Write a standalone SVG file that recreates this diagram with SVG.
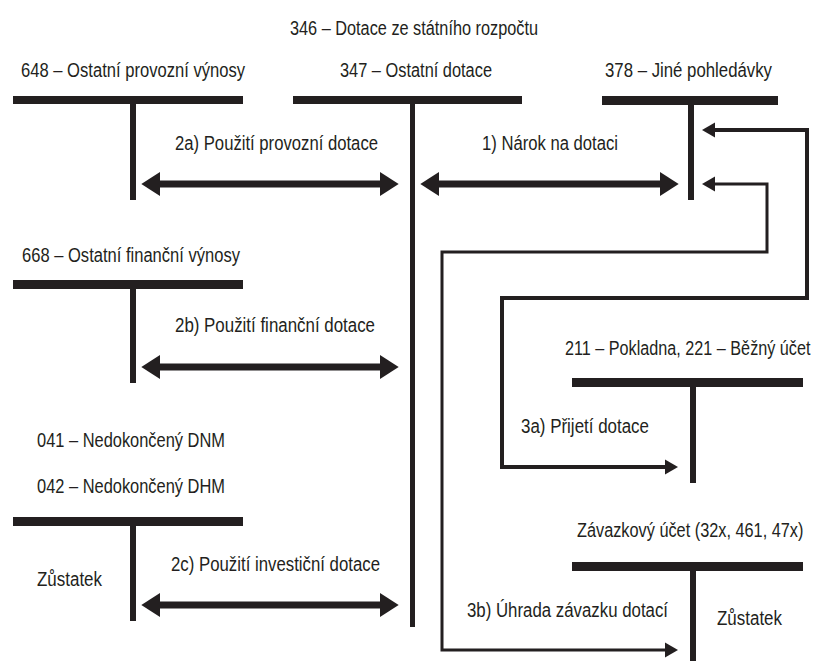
<svg xmlns="http://www.w3.org/2000/svg" width="815" height="661" viewBox="0 0 815 661">
<style>
text{font-family:"Liberation Sans Narrow","Liberation Sans",Arial,sans-serif;font-size:20px;fill:#231f20;}
text.sq{font-family:"Liberation Sans",Arial,sans-serif;}
.bar{fill:#231f20;}
.dbl{stroke:#231f20;stroke-width:7;fill:none;}
.el1{stroke:#231f20;stroke-width:4;fill:none;}
.el2{stroke:#231f20;stroke-width:3;fill:none;}
</style>
<defs>
<marker id="big" markerUnits="userSpaceOnUse" markerWidth="20" markerHeight="24" refX="2" refY="11.5" orient="auto-start-reverse" viewBox="0 0 19 23">
<path d="M0,0 L18,11.5 L0,23 z" fill="#231f20"/>
</marker>
<marker id="sm" markerUnits="userSpaceOnUse" markerWidth="14" markerHeight="16" refX="1" refY="7.5" orient="auto-start-reverse" viewBox="0 0 14 15">
<path d="M0,0 L13,7.5 L0,15 z" fill="#231f20"/>
</marker>
</defs>
<rect width="815" height="661" fill="#fff"/>

<text x="290" y="35" textLength="248" lengthAdjust="spacingAndGlyphs">346 – Dotace ze státního rozpočtu</text>

<g id="acc648">
<text x="21" y="77" textLength="224" lengthAdjust="spacingAndGlyphs">648 – Ostatní provozní výnosy</text>
<rect class="bar" x="13" y="96" width="230" height="8"/>
<rect class="bar" x="130" y="104" width="6" height="96"/>
</g>

<g id="acc347">
<text x="340" y="77" textLength="152" lengthAdjust="spacingAndGlyphs">347 – Ostatní dotace</text>
<rect class="bar" x="293" y="96" width="229" height="8"/>
<rect class="bar" x="410" y="104" width="5" height="523"/>
</g>

<g id="acc378">
<text x="605" y="77" textLength="167" lengthAdjust="spacingAndGlyphs">378 – Jiné pohledávky</text>
<rect class="bar" x="602" y="96" width="176" height="9"/>
<rect class="bar" x="688" y="104" width="6" height="96"/>
</g>

<g id="acc668">
<text x="22" y="262" textLength="218" lengthAdjust="spacingAndGlyphs">668 – Ostatní finanční výnosy</text>
<rect class="bar" x="13" y="280" width="230" height="9"/>
<rect class="bar" x="130" y="288" width="6" height="95"/>
</g>

<g id="acc041">
<text x="37" y="447" textLength="188" lengthAdjust="spacingAndGlyphs">041 – Nedokončený DNM</text>
<text x="37" y="493" textLength="188" lengthAdjust="spacingAndGlyphs">042 – Nedokončený DHM</text>
<rect class="bar" x="13" y="517" width="230" height="9"/>
<rect class="bar" x="130" y="525" width="6" height="96"/>
<text x="37" y="586" textLength="65" lengthAdjust="spacingAndGlyphs">Zůstatek</text>
</g>

<g id="acc211">
<text class="sq" transform="translate(565,355) scale(0.81,1)">211 – Pokladna, 221 – Běžný účet</text>
<rect class="bar" x="572" y="378" width="231" height="9"/>
<rect class="bar" x="690" y="386" width="6" height="97"/>
</g>

<g id="accZav">
<text class="sq" transform="translate(577,537) scale(0.815,1)">Závazkový účet (32x, 461, 47x)</text>
<rect class="bar" x="572" y="562" width="231" height="9"/>
<rect class="bar" x="690" y="570" width="6" height="91"/>
<text x="717" y="625" textLength="65" lengthAdjust="spacingAndGlyphs">Zůstatek</text>
</g>

<g id="connectors">
<line class="dbl" x1="158" y1="184" x2="382" y2="184" marker-start="url(#big)" marker-end="url(#big)"/>
<line class="dbl" x1="437" y1="184" x2="662" y2="184" marker-start="url(#big)" marker-end="url(#big)"/>
<line class="dbl" x1="158" y1="367" x2="382" y2="367" marker-start="url(#big)" marker-end="url(#big)"/>
<line class="dbl" x1="158" y1="605" x2="382" y2="605" marker-start="url(#big)" marker-end="url(#big)"/>
<path class="el1" d="M714,130 H807 V298 H502 V467 H666" marker-start="url(#sm)" marker-end="url(#sm)"/>
<path class="el2" d="M714,184 H767 V252 H442 V650 H666" marker-start="url(#sm)" marker-end="url(#sm)"/>
<text x="175" y="150" textLength="203" lengthAdjust="spacingAndGlyphs">2a) Použití provozní dotace</text>
<text x="482" y="150" textLength="136" lengthAdjust="spacingAndGlyphs">1) Nárok na dotaci</text>
<text x="175" y="332" textLength="200" lengthAdjust="spacingAndGlyphs">2b) Použití finanční dotace</text>
<text x="171" y="571" textLength="209" lengthAdjust="spacingAndGlyphs">2c) Použití investiční dotace</text>
<text x="521" y="433" textLength="128" lengthAdjust="spacingAndGlyphs">3a) Přijetí dotace</text>
<text x="467" y="617" textLength="201" lengthAdjust="spacingAndGlyphs">3b) Úhrada závazku dotací</text>
</g>
</svg>
